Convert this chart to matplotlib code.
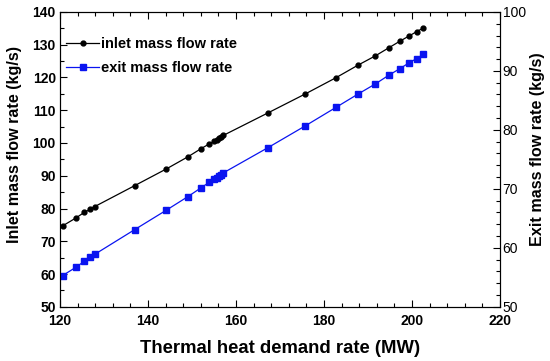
import matplotlib
matplotlib.use("Agg")
import matplotlib.pyplot as plt
from matplotlib.ticker import MultipleLocator

plt.rcParams['font.family'] = ['Liberation Sans', 'DejaVu Sans']

# thermal heat demand rate (MW)
demand = [120.6, 123.6, 125.5, 126.9, 127.9, 137.0, 144.2, 149.1, 152.1, 153.9,
          155.1, 155.6, 156.1, 156.6, 157.1, 167.3, 175.8, 182.7, 187.8, 191.7,
          194.8, 197.3, 199.4, 201.1, 202.6]
# inlet mass flow rate (kg/s), left axis
inlet = [74.7, 77.1, 78.8, 79.8, 80.6, 87.0, 92.1, 95.8, 98.3, 99.7,
         100.6, 101.0, 101.4, 101.8, 102.3, 109.2, 115.0, 119.9, 123.8, 126.6,
         129.1, 131.1, 132.7, 134.0, 135.1]
# exit mass flow rate (kg/s), right axis
exit_ = [55.3, 56.7, 57.7, 58.5, 58.9, 63.1, 66.4, 68.7, 70.2, 71.1,
         71.6, 71.9, 72.2, 72.4, 72.7, 77.0, 80.7, 83.8, 86.1, 87.8,
         89.3, 90.4, 91.4, 92.1, 92.8]

fig = plt.figure(figsize=(5.5, 3.61), dpi=100)
ax = fig.add_axes([0.109, 0.15, 0.8, 0.817])
ax2 = ax.twinx()

l1, = ax.plot(demand, inlet, '-o', color='black', lw=0.9, ms=3.5, label='inlet mass flow rate')
l2, = ax2.plot(demand, exit_, '-s', color='#0a14f0', lw=0.9, ms=4.2, label='exit mass flow rate')

ax.set_xlim(120, 220)
ax.set_ylim(50, 140)
ax2.set_ylim(50, 100)

ax.xaxis.set_major_locator(MultipleLocator(20))
ax.xaxis.set_minor_locator(MultipleLocator(4))
ax.yaxis.set_major_locator(MultipleLocator(10))
ax.yaxis.set_minor_locator(MultipleLocator(5))
ax2.yaxis.set_major_locator(MultipleLocator(10))
ax2.yaxis.set_minor_locator(MultipleLocator(2))

ax.tick_params(which='both', direction='in', top=True, right=False, width=0.8)
ax.tick_params(which='major', length=5, labelsize=10)
ax.tick_params(which='minor', length=3)
ax.tick_params(axis='x', which='major', pad=5)
ax.tick_params(axis='y', which='major', pad=3)
ax2.tick_params(which='both', direction='in', width=0.8)
ax2.tick_params(which='major', length=5, labelsize=10, pad=2)
ax2.tick_params(which='minor', length=3)

for lab in ax.get_xticklabels() + ax.get_yticklabels():
    lab.set_fontweight('bold')

ax.set_xlabel('Thermal heat demand rate (MW)', fontsize=13.3, fontweight='bold', labelpad=9)
ax.set_ylabel('Inlet mass flow rate (kg/s)', fontsize=11.6, fontweight='bold')
ax2.set_ylabel('Exit mass flow rate (kg/s)', fontsize=11.6, fontweight='bold')
ax.yaxis.set_label_coords(-0.086, 0.55)
ax2.yaxis.set_label_coords(1.068, 0.535)

ax.legend(handles=[l1, l2], loc='upper left', frameon=False,
          prop={'weight': 'bold', 'size': 10.5}, handlelength=2.2,
          handletextpad=0.2, labelspacing=0.7, bbox_to_anchor=(-0.015, 0.96))

fig.savefig('out.png', dpi=100)
